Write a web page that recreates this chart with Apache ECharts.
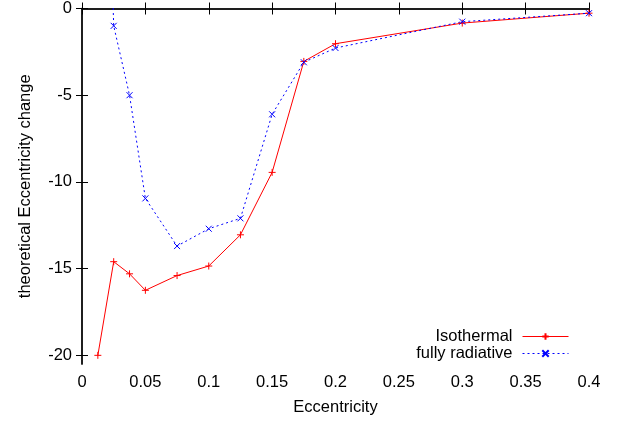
<!DOCTYPE html>
<html>
<head>
<meta charset="utf-8">
<script src="https://cdn.jsdelivr.net/npm/echarts@6/dist/echarts.min.js"></script>
<style>
  html, body { margin: 0; padding: 0; background: #fff; }
  #chart { width: 619px; height: 423px; }
</style>
</head>
<body>
<div id="chart"></div>
<script>
  // eccentricity values (x)
  const ecc = [0.0125, 0.025, 0.0375, 0.05, 0.075, 0.1, 0.125, 0.15, 0.175, 0.2, 0.3, 0.4]
  // theoretical eccentricity change
  const isothermal = [-20.0, -14.6, -15.3, -16.25, -15.4, -14.85, -13.05, -9.45, -3.05, -2.03, -0.84, -0.27]
  const radiative = [30, -1.0, -5.0, -10.95, -13.7, -12.7, -12.1, -6.1, -3.1, -2.28, -0.76, -0.27]
  const yTicks = [-20, -15, -10, -5, 0]

  const font = 'Liberation Sans, Arial, sans-serif'
  const fs = 16.5
  const plus = 'path://M0,5L10,5M5,0L5,10'
  const cross = 'path://M0,0L10,10M0,10L10,0'

  const pairs = function (ys) {
    return ecc.map(function (x, i) { return [x, ys[i]] })
  }

  const border = { show: true, lineStyle: { color: '#111', width: 1.5 } }
  const ticks = { show: true, inside: true, length: 6, lineStyle: { color: '#000', width: 1 } }

  const chart = echarts.init(document.getElementById('chart'))
  chart.setOption({
    backgroundColor: '#fff',
    animation: false,
    grid: { left: 82, right: 30, top: 7, bottom: 59 },
    legend: {
      orient: 'vertical',
      align: 'right',
      right: 45,
      top: 323,
      itemWidth: 46,
      itemHeight: 8,
      itemGap: 0,
      lineStyle: { width: 1 },
      textStyle: { fontFamily: font, fontSize: fs, color: '#000', lineHeight: 15, padding: [0, 5, 0, 0] },
      data: ['Isothermal', 'fully radiative']
    },
    xAxis: [{
      type: 'value',
      min: 0,
      max: 0.4,
      interval: 0.05,
      name: 'Eccentricity',
      nameLocation: 'middle',
      nameGap: 35,
      nameTextStyle: { fontFamily: font, fontSize: fs, color: '#000' },
      axisLine: border,
      axisTick: ticks,
      splitLine: { show: false },
      axisLabel: {
        fontFamily: font, fontSize: fs, color: '#000', margin: 10,
        formatter: function (v) { return String(+v.toFixed(2)) }
      }
    }, {
      type: 'value',
      position: 'top',
      min: 0,
      max: 0.4,
      interval: 0.05,
      axisLine: border,
      axisTick: ticks,
      axisLabel: { show: false },
      splitLine: { show: false }
    }],
    yAxis: [{
      type: 'value',
      min: -20.5,
      max: 0,
      name: 'theoretical Eccentricity change',
      nameLocation: 'middle',
      nameGap: 48,
      nameTextStyle: { fontFamily: font, fontSize: fs, color: '#000' },
      axisLine: border,
      axisTick: Object.assign({ customValues: yTicks }, ticks),
      splitLine: { show: false },
      axisLabel: {
        customValues: yTicks,
        fontFamily: font, fontSize: fs, color: '#000', margin: 10
      }
    }, {
      type: 'value',
      position: 'right',
      min: -20.5,
      max: 0,
      axisLine: border,
      axisTick: Object.assign({ customValues: yTicks }, ticks),
      axisLabel: { show: false },
      splitLine: { show: false }
    }],
    series: [{
      name: 'Isothermal',
      type: 'line',
      data: pairs(isothermal),
      symbol: plus,
      symbolSize: 7,
      showAllSymbol: true,
      clip: true,
      lineStyle: { color: '#ff0000', width: 1 },
      itemStyle: { color: '#ff0000', borderColor: '#ff0000', borderWidth: 1 }
    }, {
      name: 'fully radiative',
      type: 'line',
      data: pairs(radiative),
      symbol: cross,
      symbolSize: 6,
      showAllSymbol: true,
      clip: true,
      lineStyle: { color: '#0000ff', width: 1, type: [2, 3] },
      itemStyle: { color: '#0000ff', borderColor: '#0000ff', borderWidth: 1 }
    }]
  })
</script>
</body>
</html>
